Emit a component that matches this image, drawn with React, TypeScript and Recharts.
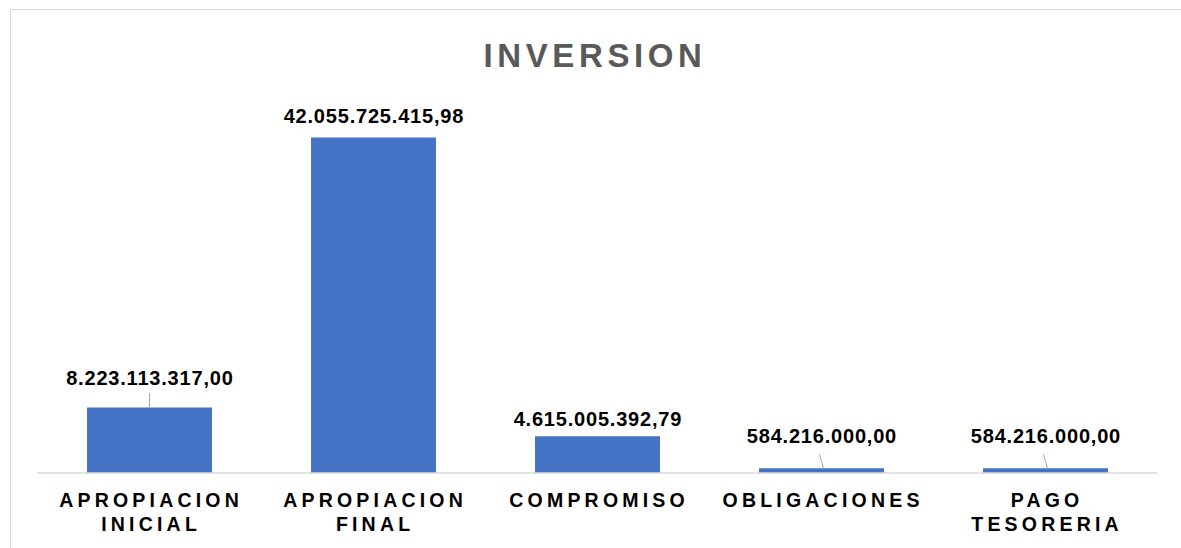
import React from "react";
import { BarChart, Bar, XAxis, YAxis, LabelList } from "recharts";

const categories = ["APROPIACION INICIAL", "APROPIACION FINAL", "COMPROMISO", "OBLIGACIONES", "PAGO TESORERIA"];
const categoryLines = [["APROPIACION", "INICIAL"], ["APROPIACION", "FINAL"], ["COMPROMISO"], ["OBLIGACIONES"], ["PAGO", "TESORERIA"]];
const values = [8223113317.0, 42055725415.98, 4615005392.79, 584216000.0, 584216000.0];
const valueLabels = ["8.223.113.317,00", "42.055.725.415,98", "4.615.005.392,79", "584.216.000,00", "584.216.000,00"];

const data = categories.map((c, i) => ({ name: c, value: values[i], idx: i }));

// label styling (distance from bar top to label centre, leader lines)
const labelGap = [29, 21, 17, 32, 32];
const leader = [true, false, false, true, true];
const leaderSlant = [0, 0, 0, 4, 4];

const BLUE = "#4472C4";

const ValueLabel = (props: any) => {
  const { x, y, width, index } = props;
  const cx = x + width / 2;
  const cy = y - labelGap[index];
  const ls = 0.8;
  return (
    <g>
      {leader[index] && (
        <line x1={cx - leaderSlant[index] / 2} y1={y - 14} x2={cx + leaderSlant[index] / 2} y2={y} stroke="#a6a6a6" strokeWidth={1} />
      )}
      <text x={cx + ls / 2} y={cy} textAnchor="middle" dominantBaseline="central"
        fontFamily="'Liberation Sans', Arial, sans-serif" fontWeight="bold" fontSize={20} letterSpacing={ls} fill="#000">
        {valueLabels[index]}
      </text>
    </g>
  );
};

const CatTick = (props: any) => {
  const { x, payload } = props;
  const lines = categoryLines[payload.index] || [payload.value];
  const ls = 4.2;
  return (
    <g>
      {lines.map((l: string, k: number) => (
        <text key={k} x={x + ls / 2} y={500 + k * 24} textAnchor="middle" dominantBaseline="central"
          fontFamily="'Liberation Sans', Arial, sans-serif" fontWeight="bold" fontSize={19.5} letterSpacing={ls} fill="#000">
          {l}
        </text>
      ))}
    </g>
  );
};

export default function App() {
  return (
    <div style={{ position: "absolute", left: 0, top: 0, width: 1181, height: 548, background: "#fff", overflow: "hidden" }}>
      <div style={{ position: "absolute", left: 10, top: 9, width: 1200, height: 600, border: "1px solid #d9d9d9" }} />
      <div style={{ position: "absolute", left: 0, top: 36, width: 1190, textAlign: "center",
        fontFamily: "'Liberation Sans', Arial, sans-serif", fontWeight: "bold", fontSize: 33, letterSpacing: 4.6, color: "#595959", lineHeight: "40px" }}>
        INVERSION
      </div>
      <div style={{ position: "absolute", left: 0, top: 0 }}>
        <BarChart width={1181} height={548} data={data} margin={{ top: 114, right: 24, left: 37, bottom: 0 }} barCategoryGap="22%">
          <YAxis hide domain={[0, 45000000000]} />
          <XAxis dataKey="name" height={75} axisLine={{ stroke: "#d9d9d9", strokeWidth: 1.5 }} tickLine={false}
            tick={<CatTick />} interval={0} />
          <Bar dataKey="value" fill={BLUE} isAnimationActive={false} barSize={125}>
            <LabelList dataKey="value" content={<ValueLabel />} />
          </Bar>
        </BarChart>
      </div>
    </div>
  );
}
